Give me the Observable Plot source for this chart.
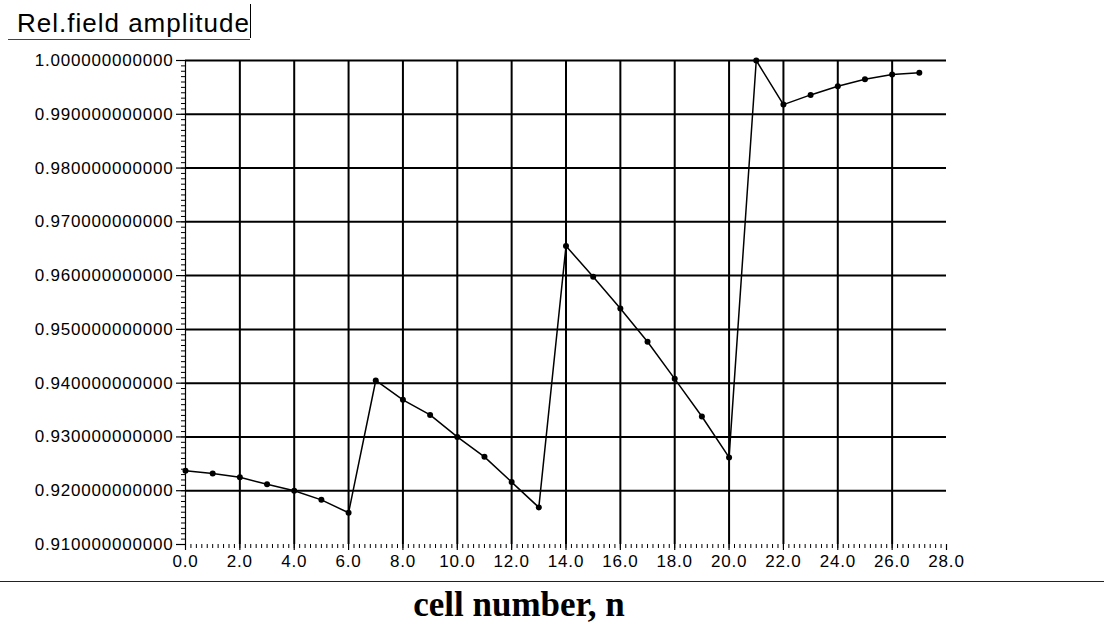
<!DOCTYPE html>
<html>
<head>
<meta charset="utf-8">
<script src="https://cdn.jsdelivr.net/npm/d3@7"></script>
<script src="https://cdn.jsdelivr.net/npm/@observablehq/plot@0.6"></script>
<style>
  body { margin: 0; background: #fff; }
  #wrap { position: relative; width: 1104px; height: 622px; background: #fff; }
  #title { position: absolute; left: 17px; top: 10px; font: 26px/1 "Liberation Sans", Arial, sans-serif; letter-spacing: 1px; color: #000; white-space: nowrap; }
  #tline { position: absolute; left: 8px; top: 39px; width: 242px; border-top: 1px solid #444; }
  #tbar { position: absolute; left: 250px; top: 4px; height: 34px; border-left: 1.5px solid #000; }
  #sep { position: absolute; left: 0; top: 581px; width: 1104px; border-top: 1.5px solid #222; }
  #xlabel { position: absolute; left: 519px; top: 587px; transform: translateX(-50%); font: bold 35px/1 "Liberation Serif", "Times New Roman", serif; color: #000; white-space: nowrap; }
  #chart svg text { letter-spacing: 0.8px; }
</style>
</head>
<body>
<div id="wrap">
  <div id="chart"></div>
  <div id="title">Rel.field amplitude</div>
  <div id="tline"></div>
  <div id="tbar"></div>
  <div id="sep"></div>
  <div id="xlabel">cell number, n</div>
</div>
<script>
const cells = [0,1,2,3,4,5,6,7,8,9,10,11,12,13,14,15,16,17,18,19,20,21,22,23,24,25,26,27];
const amplitude = [0.9237,0.9232,0.9225,0.9212,0.9200,0.9183,0.9159,0.9405,0.9369,0.9341,0.9300,0.9263,0.9216,0.9169,0.9655,0.9598,0.9539,0.9477,0.9408,0.9338,0.9262,1.0000,0.9918,0.9936,0.9952,0.9965,0.9974,0.9977];
const yTicks = [0.91,0.92,0.93,0.94,0.95,0.96,0.97,0.98,0.99,1.00];
const xTicks = [0,2,4,6,8,10,12,14,16,18,20,22,24,26,28];
const hGrid = [0.92,0.93,0.94,0.95,0.96,0.97,0.98,0.99,1.00];
const vGrid = [2,4,6,8,10,12,14,16,18,20,22,24,26];
const yMinor = d3.range(910, 1001).map(d => d / 1000);
const xMinor = d3.range(0, 141).map(d => d / 5);

const data = cells.map((c, i) => ({cell: c, amp: amplitude[i]}));

const chart = Plot.plot({
  width: 1104,
  height: 622,
  marginLeft: 185,
  marginRight: 158,
  marginTop: 60,
  marginBottom: 78,
  style: {fontFamily: "'Liberation Sans', Arial, sans-serif", fontSize: "17px", color: "#000", background: "#fff"},
  x: {domain: [0, 28]},
  y: {domain: [0.91, 1.0]},
  marks: [
    Plot.ruleY(hGrid, {stroke: "#000", strokeWidth: 2}),
    Plot.ruleX(vGrid, {stroke: "#000", strokeWidth: 2}),
    Plot.ruleX([0], {stroke: "#000", strokeWidth: 1.2}),
    Plot.axisY({ticks: yMinor, tickSize: 4, text: null, strokeWidth: 1, label: null}),
    Plot.axisY({ticks: yTicks, tickFormat: d3.format(".12f"), tickSize: 9, tickPadding: 3, fontSize: 17, strokeWidth: 1.2, label: null}),
    Plot.axisX({ticks: xMinor, tickSize: 4, text: null, strokeWidth: 1, label: null}),
    Plot.axisX({ticks: xTicks, tickFormat: d3.format(".1f"), tickSize: 6, tickPadding: 4, fontSize: 17, strokeWidth: 1.2, label: null}),
    Plot.line(data, {x: "cell", y: "amp", stroke: "#000", strokeWidth: 1.5}),
    Plot.dot(data, {x: "cell", y: "amp", r: 3, fill: "#000"})
  ]
});
document.getElementById("chart").appendChild(chart);
</script>
</body>
</html>
